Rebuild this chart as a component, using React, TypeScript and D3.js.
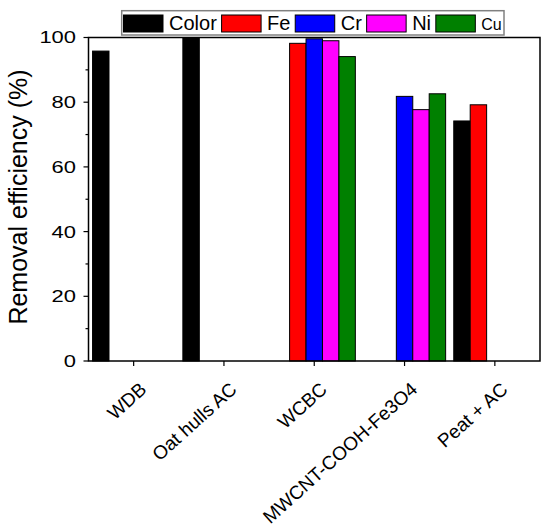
import React from "react";
import * as d3 from "d3";

const categories = ["WDB", "Oat hulls AC", "WCBC", "MWCNT-COOH-Fe3O4", "Peat + AC"];
const seriesNames = ["Color", "Fe", "Cr", "Ni", "Cu"];
const colorValues = [95.8, 100, null, null, 74.2];
const feValues = [null, null, 98.2, null, 79.2];
const crValues = [null, null, 99.6, 81.8, null];
const niValues = [null, null, 99.0, 77.7, null];
const cuValues = [null, null, 94.1, 82.6, null];
const yTicks = [0, 20, 40, 60, 80, 100];
const yMinorTicks = [10, 30, 50, 70, 90];
const seriesColors = ["#000000", "#ff0000", "#0000ff", "#ff00ff", "#008000"];

const W = 550;
const H = 531;
const M = { left: 88.5, right: 540, top: 37.5, bottom: 361 };
const FONT = "'Liberation Sans', Arial, Helvetica, sans-serif";

function measure(text: string, size: number): number {
  if (typeof document === "undefined") return text.length * size * 0.55;
  const c = document.createElement("canvas").getContext("2d");
  if (!c) return text.length * size * 0.55;
  c.font = `${size}px ${FONT}`;
  return c.measureText(text).width;
}

export default function App() {
  const seriesValues = [colorValues, feValues, crValues, niValues, cuValues];
  const x = d3
    .scaleBand<string>()
    .domain(categories)
    .range([M.left, M.right])
    .paddingInner(0.09)
    .paddingOuter(0.045);
  const xs = d3.scaleBand<string>().domain(seriesNames).range([0, x.bandwidth()]);
  const y = d3.scaleLinear().domain([0, 100]).range([M.bottom, M.top]);

  // legend layout
  const legendFont = [20, 20, 20, 20, 16];
  const swW = 39.5;
  let cx = 123.5;
  const legendItems = seriesNames.map((n, i) => {
    const item = { name: n, sx: cx, tx: cx + swW + 6, size: legendFont[i] };
    cx = item.tx + measure(n, legendFont[i]) + 4.8;
    return item;
  });

  return (
    <svg
      width={W}
      height={H}
      style={{ position: "absolute", left: 0, top: 0, background: "#fff" }}
      fontFamily={FONT}
    >
      <rect x={0} y={0} width={W} height={H} fill="#fff" />
      {/* bars */}
      {seriesValues.map((vals, si) =>
        vals.map((v, ci) =>
          v == null ? null : (
            <rect
              key={`${si}-${ci}`}
              x={(x(categories[ci]) as number) + (xs(seriesNames[si]) as number)}
              y={y(v)}
              width={xs.bandwidth()}
              height={y(0) - y(v)}
              fill={seriesColors[si]}
              stroke="#000"
              strokeWidth={1}
            />
          )
        )
      )}
      {/* frame */}
      <rect
        x={M.left}
        y={M.top}
        width={M.right - M.left}
        height={M.bottom - M.top}
        fill="none"
        stroke="#000"
        strokeWidth={1.5}
      />
      {/* y ticks */}
      {yTicks.map((t) => (
        <g key={t}>
          <line x1={M.left - 5} x2={M.left} y1={y(t)} y2={y(t)} stroke="#000" strokeWidth={1.2} />
          <text
            transform={`translate(76,${y(t)}) scale(1.33,1)`}
            textAnchor="end"
            dy="0.36em"
            fontSize={16.5}
            fill="#000"
          >
            {t}
          </text>
        </g>
      ))}
      {yMinorTicks.map((t) => (
        <line key={t} x1={M.left - 3} x2={M.left} y1={y(t)} y2={y(t)} stroke="#000" strokeWidth={1.2} />
      ))}
      {/* x ticks and labels */}
      {categories.map((c) => {
        const cxp = (x(c) as number) + x.bandwidth() / 2;
        return (
          <g key={c}>
            <line x1={cxp} x2={cxp} y1={M.bottom} y2={M.bottom + 5} stroke="#000" strokeWidth={1.2} />
            <text
              transform={`translate(${cxp + 14},391) rotate(-42)`}
              textAnchor="end"
              fontSize={19}
              fill="#000"
            >
              {c}
            </text>
          </g>
        );
      })}
      {/* y title */}
      <text
        transform={`translate(27,197) rotate(-90)`}
        textAnchor="middle"
        fontSize={25}
        fill="#000"
      >
        Removal efficiency (%)
      </text>
      {/* legend */}
      <rect x={121.7} y={10.7} width={382.3} height={24.3} fill="#fff" stroke="#808080" strokeWidth={1.5} />
      {legendItems.map((it, i) => (
        <g key={it.name}>
          <rect x={it.sx} y={15} width={swW} height={17} fill={seriesColors[i]} stroke="#000" strokeWidth={1} />
          <text x={it.tx} y={30} fontSize={it.size} fill="#000">
            {it.name}
          </text>
        </g>
      ))}
    </svg>
  );
}
